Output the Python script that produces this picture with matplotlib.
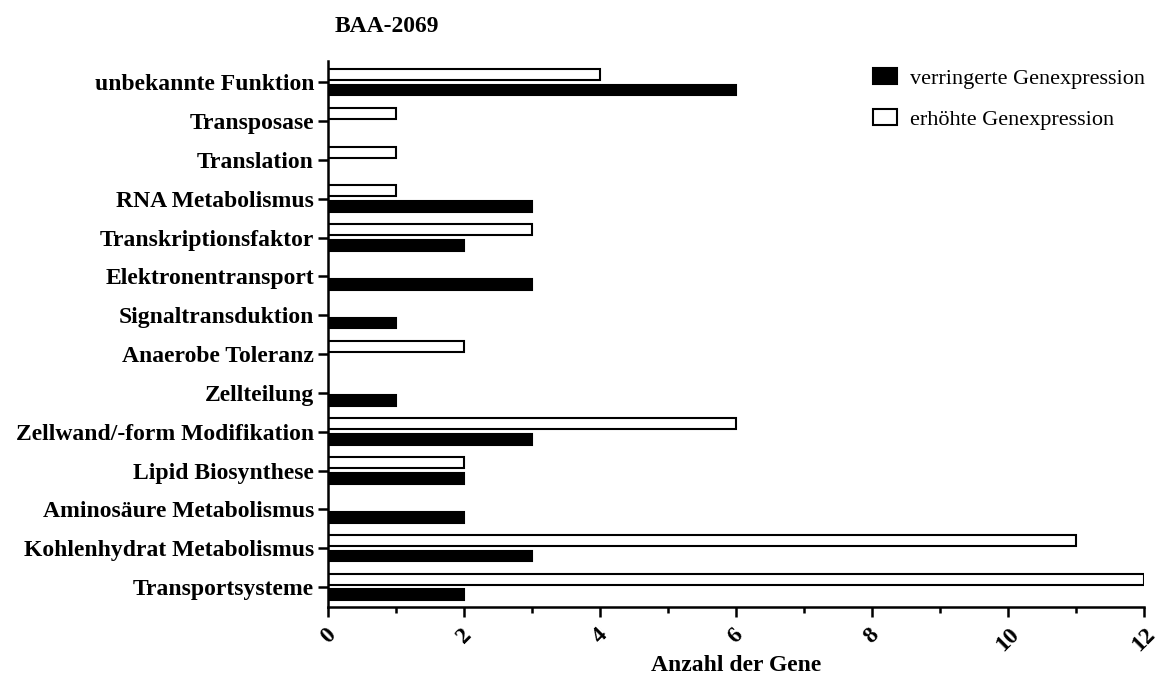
import numpy as np
import matplotlib.pyplot as plt
from matplotlib.ticker import MultipleLocator
from matplotlib.patches import Patch

# Kategorien von unten nach oben
kategorien = ['Transportsysteme', 'Kohlenhydrat Metabolismus', 'Aminosäure Metabolismus',
              'Lipid Biosynthese', 'Zellwand/-form Modifikation', 'Zellteilung',
              'Anaerobe Toleranz', 'Signaltransduktion', 'Elektronentransport',
              'Transkriptionsfaktor', 'RNA Metabolismus', 'Translation',
              'Transposase', 'unbekannte Funktion']
verringert = [2, 3, 2, 2, 3, 1, 0, 1, 3, 2, 3, 0, 0, 6]
erhoeht = [12, 11, 0, 2, 6, 0, 2, 0, 0, 3, 1, 1, 1, 4]
x_ticks = [0, 2, 4, 6, 8, 10, 12]

plt.rcParams['font.family'] = ['Liberation Serif', 'DejaVu Serif']

fig = plt.figure(figsize=(11.67, 6.8), dpi=100)
ax = fig.add_axes([0.281, 0.107, 0.699, 0.803])

y = np.arange(len(kategorien))
h = 0.28
for i in range(len(kategorien)):
    if erhoeht[i] > 0:
        ax.barh(y[i] + 0.2, erhoeht[i], height=h, color='white', edgecolor='black', linewidth=1.5)
    if verringert[i] > 0:
        ax.barh(y[i] - 0.2, verringert[i], height=h, color='black', edgecolor='black', linewidth=1.5)

ax.set_xlim(0, 12)
ax.set_ylim(-0.52, 13.54)
ax.set_yticks(y)
ax.set_yticklabels(kategorien, fontsize=17, fontweight='bold')
ax.set_xticks(x_ticks)
ax.set_xticklabels([str(t) for t in x_ticks], fontsize=17, fontweight='bold', rotation=45,
                   ha='center', va='top')
ax.xaxis.set_minor_locator(MultipleLocator(1))
ax.tick_params(axis='y', which='major', width=1.8, length=7, pad=3)
ax.tick_params(axis='x', which='major', width=1.8, length=7, pad=5)
ax.tick_params(axis='x', which='minor', width=1.8, length=4)
for s in ['top', 'right']:
    ax.spines[s].set_visible(False)
for s in ['left', 'bottom']:
    ax.spines[s].set_linewidth(1.8)

ax.set_xlabel('Anzahl der Gene', fontsize=17, fontweight='bold', va='center')
ax.xaxis.set_label_coords(0.5, -0.106)
fig.text(0.287, 0.961, 'BAA-2069', fontsize=17, fontweight='bold', va='center')

# Legende
handles = [Patch(facecolor='black', edgecolor='black', linewidth=1.5),
           Patch(facecolor='white', edgecolor='black', linewidth=1.5)]
fig.legend(handles, ['verringerte Genexpression', 'erhöhte Genexpression'],
           loc='upper left', bbox_to_anchor=(0.748, 0.9), frameon=False, fontsize=16,
           handlelength=1.08, handleheight=0.72, labelspacing=0.92, handletextpad=0.59,
           borderpad=0, borderaxespad=0)

fig.savefig('out.png', dpi=100)
